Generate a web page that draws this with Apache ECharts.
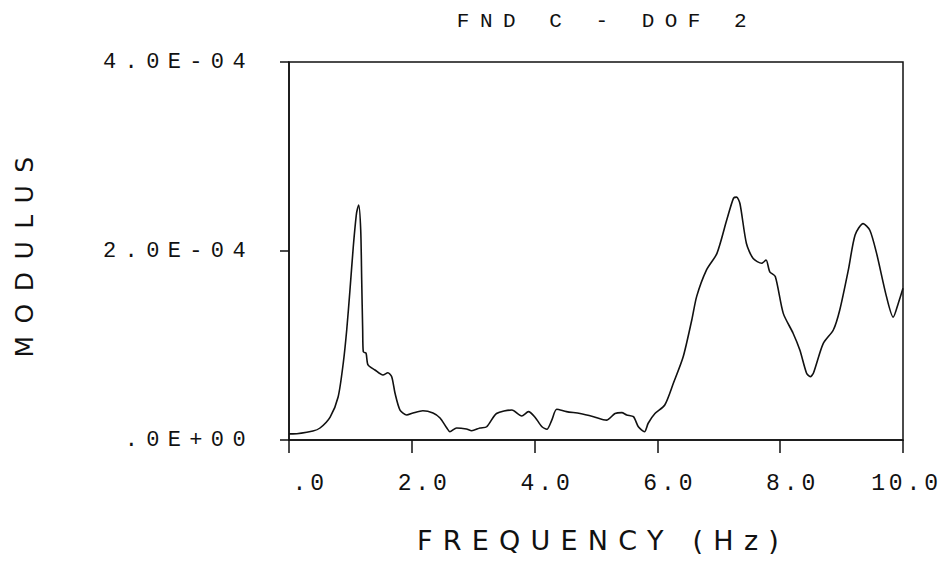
<!DOCTYPE html>
<html>
<head>
<meta charset="utf-8">
<script src="https://cdn.jsdelivr.net/npm/echarts@6/dist/echarts.min.js"></script>
<style>
html, body { margin: 0; padding: 0; background: #fff; }
#chart { width: 945px; height: 565px; }
</style>
</head>
<body>
<div id="chart"></div>
<script>
// Title and axis names
const titleText = 'FND C - DOF 2';
const xName = 'FREQUENCY (Hz)';
const yName = 'MODULUS';

// Tick labels
const xTickLabels = ['.0', '2.0', '4.0', '6.0', '8.0', '10.0'];
const yTickLabels = ['.0E+00', '2.0E-04', '4.0E-04'];

// Frequency (Hz)
const freq = [0, 0.065, 0.39, 0.505, 0.67, 0.80, 0.884, 0.94, 0.993, 1.047, 1.10, 1.135, 1.168, 1.184, 1.20, 1.21, 1.254, 1.287, 1.40, 1.53, 1.61, 1.673, 1.726, 1.808, 1.917, 2.02, 2.18, 2.345, 2.46, 2.57, 2.62, 2.73, 2.89, 2.975, 3.11, 3.22, 3.38, 3.63, 3.79, 3.90, 4.0, 4.12, 4.20, 4.28, 4.36, 4.52, 4.74, 4.96, 5.17, 5.31, 5.42, 5.50, 5.61, 5.69, 5.79, 5.85, 5.96, 6.12, 6.26, 6.42, 6.56, 6.64, 6.80, 6.97, 7.13, 7.24, 7.29, 7.345, 7.45, 7.56, 7.70, 7.77, 7.83, 7.92, 8.05, 8.21, 8.32, 8.43, 8.49, 8.54, 8.70, 8.865, 8.97, 9.11, 9.22, 9.35, 9.46, 9.57, 9.73, 9.84, 9.925, 10.0];

// Modulus, in units of 1E-04
const modulus = [0.065, 0.065, 0.095, 0.127, 0.243, 0.455, 0.815, 1.164, 1.587, 2.045, 2.40, 2.487, 2.222, 1.693, 1.164, 0.934, 0.92, 0.794, 0.741, 0.688, 0.712, 0.67, 0.497, 0.317, 0.265, 0.286, 0.31, 0.286, 0.233, 0.127, 0.088, 0.127, 0.116, 0.098, 0.127, 0.14, 0.28, 0.317, 0.254, 0.30, 0.247, 0.14, 0.113, 0.21, 0.325, 0.30, 0.28, 0.247, 0.21, 0.28, 0.29, 0.265, 0.247, 0.14, 0.088, 0.177, 0.28, 0.37, 0.60, 0.88, 1.27, 1.52, 1.80, 1.975, 2.33, 2.56, 2.57, 2.50, 2.08, 1.92, 1.87, 1.905, 1.78, 1.73, 1.34, 1.13, 0.952, 0.706, 0.67, 0.706, 1.02, 1.164, 1.376, 1.80, 2.17, 2.29, 2.22, 1.975, 1.52, 1.30, 1.45, 1.605];

const SANS = 'DejaVu Sans';
const MONO = 'Liberation Mono';
const seriesData = freq.map((f, i) => [f, modulus[i]]);

const chart = echarts.init(document.getElementById('chart'), null, { renderer: 'svg' });
chart.setOption({
  animation: false,
  backgroundColor: '#fff',
  title: {
    text: titleText,
    left: 602,
    textAlign: 'center',
    top: 6,
    textStyle: { fontFamily: MONO, fontSize: 21, fontWeight: 'normal', color: '#111' }
  },
  grid: {
    left: 289, right: 42, top: 62, bottom: 125,
    show: true, borderColor: '#111', borderWidth: 1.5
  },
  xAxis: {
    type: 'value',
    min: 0, max: 10, interval: 2,
    name: xName,
    nameLocation: 'middle',
    nameGap: 87,
    nameTextStyle: { fontFamily: SANS, fontSize: 27, color: '#111', padding: [0, 0, 0, 14] },
    axisLine: { show: true, onZero: false, lineStyle: { color: '#111', width: 1.5 } },
    axisTick: { show: true, inside: false, length: 13, lineStyle: { color: '#111', width: 1.5 } },
    splitLine: { show: false },
    axisLabel: {
      margin: 32,
      fontFamily: MONO, fontSize: 23, color: '#111',
      align: 'right',
      padding: [0, -39, 0, 0],
      formatter: v => xTickLabels[Math.round(v / 2)]
    }
  },
  yAxis: {
    type: 'value',
    min: 0, max: 4, interval: 2,
    name: yName,
    nameLocation: 'middle',
    nameGap: 252,
    nameTextStyle: { fontFamily: SANS, fontSize: 25, color: '#111' },
    axisLine: { show: true, lineStyle: { color: '#111', width: 1.5 } },
    axisTick: { show: true, inside: false, length: 9, lineStyle: { color: '#111', width: 1.5 } },
    splitLine: { show: false },
    axisLabel: {
      margin: 35,
      fontFamily: MONO, fontSize: 22, color: '#111',
      formatter: v => yTickLabels[Math.round(v / 2)]
    }
  },
  series: [{
    type: 'line',
    data: seriesData,
    showSymbol: false,
    smooth: 0.25,
    lineStyle: { color: '#111', width: 1.6 },
    z: 3
  }]
});

function spaceText() {
  const texts = document.querySelectorAll('#chart svg text');
  texts.forEach(t => {
    const s = (t.textContent || '').trim();
    let ls = null;
    if (s === titleText) ls = '0.5em';
    else if (s === xName) ls = '0.38em';
    else if (s === yName) ls = '0.5em';
    else if (yTickLabels.indexOf(s) >= 0) ls = '0.38em';
    else if (xTickLabels.indexOf(s) >= 0) ls = '0.17em';
    if (ls) t.style.letterSpacing = ls;
  });
}
spaceText();
chart.on('finished', spaceText);
setTimeout(spaceText, 50);
</script>
</body>
</html>
